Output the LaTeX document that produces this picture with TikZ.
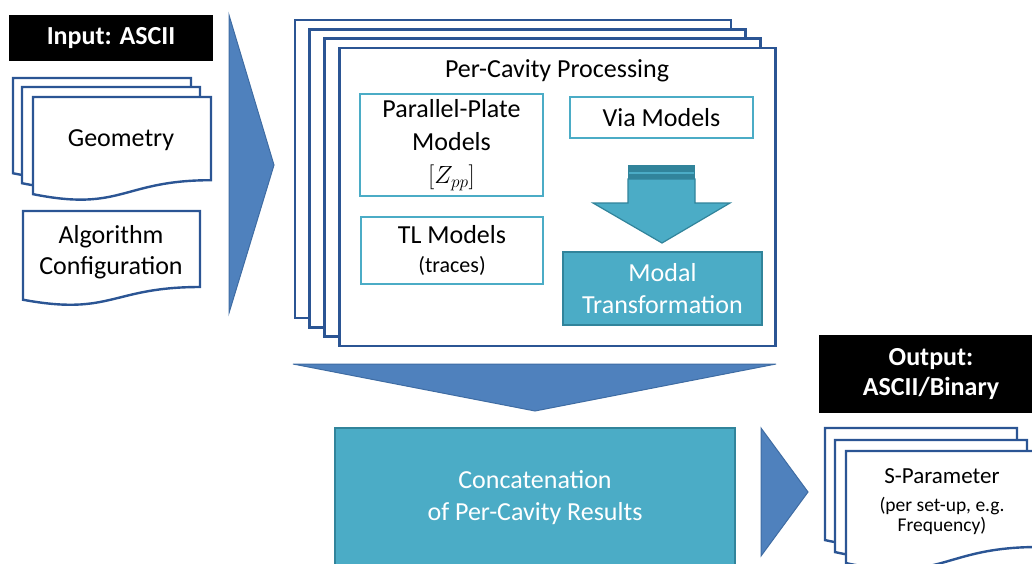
\documentclass[tikz,border=0pt]{standalone}
\usepackage{fontspec}
\setmainfont{Carlito}
\usetikzlibrary{positioning}

\definecolor{arrowblue}{HTML}{4F81BD}
\definecolor{arrowedge}{HTML}{3F6CA3}
\definecolor{frameblue}{HTML}{2B5594}
\definecolor{cyanline}{HTML}{4BACC6}
\definecolor{tealfill}{HTML}{4BACC6}
\definecolor{tealedge}{HTML}{31849B}

% document sheet with wavy lower edge: x, y (top-left), width, height
\newcommand{\docsheet}[4]{%
  \draw[docline] (#1,#2) -- ({#1+#3},#2) -- ({#1+#3},{#2+0.80*#4})
    .. controls ({#1+0.5*#3},{#2+0.80*#4}) and ({#1+0.5*#3},{#2+1.107*#4}) .. (#1,{#2+0.934*#4}) -- cycle;}

\begin{document}
\begin{tikzpicture}[x=1pt,y=-1pt,
  docline/.style={draw=frameblue,line width=2.4pt,fill=white},
  cavframe/.style={draw=frameblue,line width=2.8pt,fill=white},
  blockarrow/.style={fill=arrowblue,draw=arrowedge,line width=1pt},
  tagbox/.style={fill=black,text=white,font=\fontsize{26}{30}\selectfont\bfseries,inner sep=0pt,align=center},
  modelbox/.style={draw=cyanline,line width=2.8pt,fill=white,inner sep=0pt,align=center,font=\fontsize{26}{33}\selectfont},
  tealbox/.style={draw=tealedge,line width=1.8pt,fill=tealfill,text=white,inner sep=0pt,align=center,font=\fontsize{26}{32}\selectfont},
  txt/.style={inner sep=0pt,align=center,font=\fontsize{26}{31}\selectfont}
]
\useasboundingbox (0,0) rectangle (1032,563);
\clip (0,0) rectangle (1032,563);

% Input side
\node[tagbox,minimum width=204pt,minimum height=46pt] (inputtag) at (111,38) {Input: ASCII};
\docsheet{13}{78}{178}{102}
\docsheet{22}{87}{178}{103}
\docsheet{33}{97}{178}{104}
\node[txt] (geomtxt) at (121,140) {Geometry};
\docsheet{23}{211}{177}{95}
\node[txt] (algotxt) at (111,252) {Algorithm\\Configuration};

\filldraw[blockarrow] (229,15) -- (274,165) -- (229,313) -- cycle;

% Per-cavity stack
\foreach \i in {0,...,3}
  \draw[cavframe] ({295+14.7*\i},{20+9.3*\i}) rectangle ++(436,298);
\node[txt] (cavtitle) at (557,71) {Per-Cavity Processing};

\node[modelbox,minimum width=183pt,minimum height=102pt] (ppbox) at (451.5,145) {Parallel-Plate\\Models\\$[Z_{pp}]$};
\node[modelbox,minimum width=183pt,minimum height=41pt] (viabox) at (661.5,117.5) {Via Models};
\node[modelbox,minimum width=182pt,minimum height=67pt] (tlbox) at (452,250.5) {TL Models\\[-4pt]{\fontsize{22}{26}\selectfont(traces)}};

% down arrow into the modal transformation
\fill[tealedge] (628,165) rectangle (695,179);
\draw[tealfill,line width=1.5pt] (629,173) -- (694,173);
\filldraw[fill=tealfill,draw=tealedge,line width=1.2pt] (628,179) -- (695,179) -- (695,203) -- (730,203)
  -- (662,243) -- (593,203) -- (628,203) -- cycle;
\node[tealbox,minimum width=199pt,minimum height=73pt] (modalbox) at (662.5,288.5) {Modal\\Transformation};

\filldraw[blockarrow] (293,364) -- (776,364) -- (535,411) -- cycle;

% Concatenation and output
\node[tealbox,minimum width=400pt,minimum height=140pt] (concatbox) at (535,498) {Concatenation\\of Per-Cavity Results};

\filldraw[blockarrow] (761,428) -- (808,492) -- (761,556) -- cycle;

\node[tagbox,minimum width=224pt,minimum height=78pt] (outputtag) at (931,374) {Output:\\ASCII/Binary};
\docsheet{825}{428}{192}{120}
\docsheet{835}{440}{192}{120}
\docsheet{846}{451}{192}{120}
\node[txt,font=\fontsize{23}{28}\selectfont] (sparamtxt) at (942,476) {S-Parameter};
\node[txt,font=\fontsize{19.5}{20}\selectfont] (setuptxt) at (942,516) {(per set-up, e.g.\\Frequency)};

\end{tikzpicture}
\end{document}
